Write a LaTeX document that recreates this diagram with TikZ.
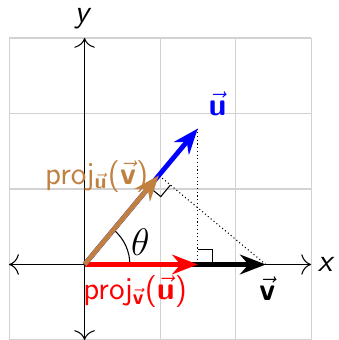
\documentclass[tikz,border=0pt]{standalone}
\usepackage{amsmath}
\usetikzlibrary{arrows.meta,calc}
\begin{document}
\begin{tikzpicture}[
  font=\sffamily,
  vecarrow/.style={line width=1.8pt,-{Stealth[length=3.4mm,width=2.6mm]}},
  axisline/.style={thin,{To[length=1.3mm]}-{To[length=1.3mm]}},
  dotline/.style={densely dotted,thin},
  lab/.style={inner sep=1pt,font=\sffamily\large}
]
\useasboundingbox (-1.12,-1) rectangle (3.357,3.503);
\draw[gray!35,thin] (-1,-1) grid (3,3);
\coordinate (O) at (0,0);
\coordinate (U) at (1.5,1.8);
\coordinate (V) at (2.4,0);
\coordinate (P) at (1.5,0);
\coordinate (Q) at (0.98361,1.18033);
\coordinate (XL) at (-1,0);
\coordinate (XR) at (3,0);
\coordinate (YB) at (0,-1);
\coordinate (YT) at (0,3);
\draw[axisline] (XL) -- (XR);
\draw[axisline] (YB) -- (YT);
\node[lab] (xlab) at (3.2,0) {\textsl{x}};
\node[lab] (ylab) at (-0.02,3.26) {\textsl{y}};
% dotted helpers
\draw[dotline] (U) -- (P);
\draw[dotline] (V) -- (Q);
% right angle markers
\coordinate (A) at ($(Q)!0.2cm!(O)$);
\coordinate (B) at ($(Q)!0.2cm!(V)$);
\draw[thin] (A) -- ($(A)+(B)-(Q)$) -- (B);
\coordinate (P1) at (1.5,0.2);
\coordinate (P2) at (1.7,0.2);
\coordinate (P3) at (1.7,0);
\draw[thin] (P1) -- (P2) -- (P3);
% angle
\draw[thin] ([shift={(0:0.6)}]O) arc (0:50.19:0.6);
\node[inner sep=1pt] (th) at (0.74,0.3) {\Large$\theta$};
% vectors
\draw[vecarrow,black] (O) -- (V);
\draw[vecarrow,red] (O) -- (P);
\draw[vecarrow,blue] (O) -- (U);
\draw[vecarrow,brown] (O) -- (Q);
% labels
\node[lab,blue] (ulab) at (1.76,2.13) {$\vec{\textbf{u}}$};
\node[lab,black] (vlab) at (2.42,-0.32) {$\vec{\textbf{v}}$};
\node[lab,brown] (projv) at (0.16,1.17) {proj$_{\vec{\textbf{u}}}$($\vec{\textbf{v}}$)};
\node[lab,red] (proju) at (0.67,-0.36) {proj$_{\vec{\textbf{v}}}$($\vec{\textbf{u}}$)};
\end{tikzpicture}
\end{document}
